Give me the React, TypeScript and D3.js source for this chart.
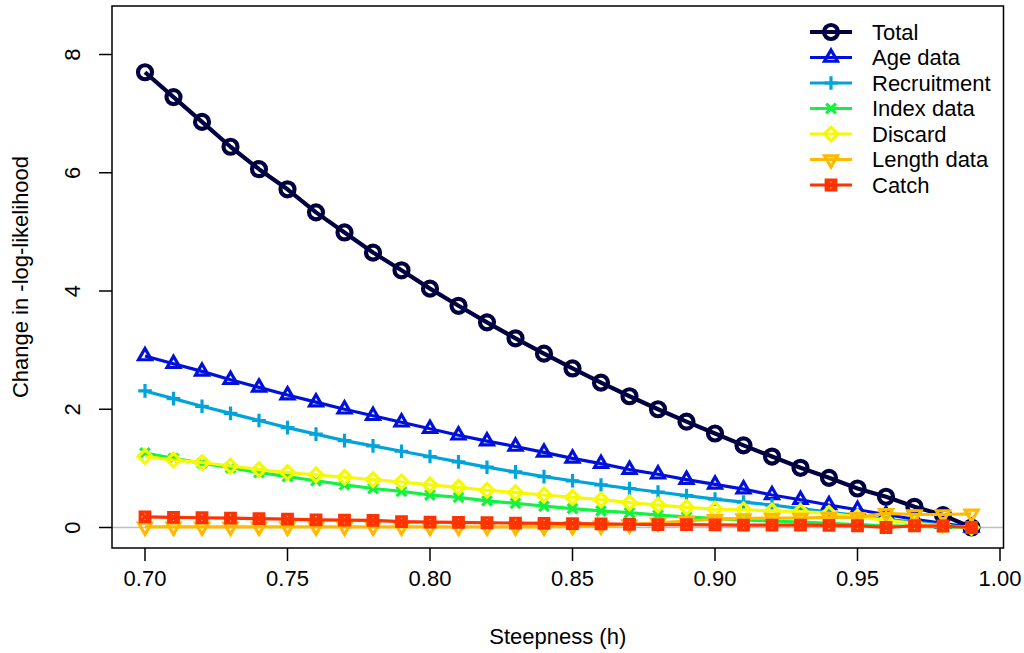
import React from "react";
import * as d3 from "d3";

const steepness = [0.70, 0.71, 0.72, 0.73, 0.74, 0.75, 0.76, 0.77, 0.78, 0.79, 0.80, 0.81, 0.82, 0.83, 0.84, 0.85, 0.86, 0.87, 0.88, 0.89, 0.90, 0.91, 0.92, 0.93, 0.94, 0.95, 0.96, 0.97, 0.98, 0.99];

const total = [7.70, 7.28, 6.86, 6.44, 6.06, 5.72, 5.33, 4.99, 4.65, 4.35, 4.04, 3.75, 3.47, 3.20, 2.94, 2.69, 2.45, 2.22, 2.00, 1.79, 1.59, 1.39, 1.20, 1.01, 0.84, 0.66, 0.52, 0.35, 0.21, 0.00];
const ageData = [2.90, 2.77, 2.64, 2.50, 2.37, 2.24, 2.12, 2.00, 1.89, 1.78, 1.67, 1.56, 1.46, 1.37, 1.27, 1.17, 1.08, 0.98, 0.90, 0.81, 0.73, 0.65, 0.55, 0.47, 0.38, 0.30, 0.22, 0.14, 0.07, 0.00];
const recruitment = [2.31, 2.18, 2.05, 1.93, 1.81, 1.69, 1.58, 1.47, 1.38, 1.29, 1.20, 1.11, 1.02, 0.94, 0.86, 0.79, 0.72, 0.66, 0.60, 0.54, 0.48, 0.43, 0.38, 0.32, 0.26, 0.20, 0.14, 0.09, 0.04, 0.00];
const indexData = [1.26, 1.17, 1.09, 1.01, 0.93, 0.86, 0.79, 0.72, 0.66, 0.61, 0.55, 0.51, 0.45, 0.41, 0.36, 0.32, 0.28, 0.25, 0.21, 0.18, 0.15, 0.13, 0.11, 0.09, 0.07, 0.05, 0.03, 0.02, 0.01, 0.00];
const discard = [1.20, 1.14, 1.10, 1.04, 0.98, 0.93, 0.89, 0.85, 0.81, 0.77, 0.72, 0.68, 0.63, 0.59, 0.55, 0.51, 0.47, 0.42, 0.38, 0.34, 0.31, 0.30, 0.28, 0.27, 0.24, 0.18, 0.12, 0.07, 0.03, 0.00];
const lengthData = [0.01, 0.01, 0.01, 0.01, 0.01, 0.01, 0.01, 0.01, 0.01, 0.01, 0.01, 0.01, 0.01, 0.01, 0.01, 0.02, 0.03, 0.05, 0.08, 0.11, 0.14, 0.15, 0.16, 0.16, 0.17, 0.17, 0.24, 0.22, 0.22, 0.23];
const catchData = [0.18, 0.17, 0.165, 0.16, 0.15, 0.14, 0.13, 0.125, 0.12, 0.10, 0.09, 0.085, 0.08, 0.075, 0.07, 0.065, 0.06, 0.055, 0.05, 0.05, 0.045, 0.04, 0.04, 0.04, 0.035, 0.03, 0.00, 0.03, 0.025, 0.00];

const seriesNames = ["Total", "Age data", "Recruitment", "Index data", "Discard", "Length data", "Catch"];
const seriesColors = ["#000040", "#0010DB", "#00A4DB", "#13F240", "#F6F905", "#FFBA00", "#FF3300"];
const seriesShapes = ["circle", "triangle", "plus", "cross", "diamond", "triangleDown", "squareX"];

const xTicks = [0.70, 0.75, 0.80, 0.85, 0.90, 0.95, 1.00];
const yTicks = [0, 2, 4, 6, 8];

function markerPath(shape: string): string {
  switch (shape) {
    case "circle": {
      const r = 7;
      return `M${-r},0A${r},${r} 0 1,0 ${r},0A${r},${r} 0 1,0 ${-r},0Z`;
    }
    case "triangle": {
      const s = 4.8;
      const r = 1.555 * s, xc = 1.3468 * s, yc = 0.7776 * s;
      return `M0,${-r}L${xc},${yc}L${-xc},${yc}Z`;
    }
    case "triangleDown": {
      const s = 4.8;
      const r = 1.555 * s, xc = 1.3468 * s, yc = 0.7776 * s;
      return `M0,${r}L${xc},${-yc}L${-xc},${-yc}Z`;
    }
    case "plus": {
      const a = 6.8;
      return `M${-a},0L${a},0M0,${-a}L0,${a}`;
    }
    case "cross": {
      const a = 4.8;
      return `M${-a},${-a}L${a},${a}M${-a},${a}L${a},${-a}`;
    }
    case "diamond": {
      const a = 6.8;
      return `M0,${-a}L${a},0L0,${a}L${-a},0Z`;
    }
    case "squareX": {
      const a = 4.8;
      return `M${-a},${-a}L${a},${-a}L${a},${a}L${-a},${a}Z M${-a},${-a}L${a},${a}M${-a},${a}L${a},${-a}`;
    }
  }
  return "";
}

export default function App() {
  const W = 1024, H = 653;
  const box = { left: 112, right: 1003.5, top: 6, bottom: 548 };
  const x = d3.scaleLinear().domain([0.70, 1.00]).range([145, 1000]);
  const y = d3.scaleLinear().domain([0, 8]).range([527.5, 54.5]);

  const allSeries = [total, ageData, recruitment, indexData, discard, lengthData, catchData];
  const line = d3.line<number>().x((_, i) => x(steepness[i])).y((d) => y(d));

  const font = "'Liberation Sans', Arial, Helvetica, sans-serif";
  const fs = 22;

  return (
    <svg width={W} height={H} style={{ position: "absolute", left: 0, top: 0, background: "#fff" }} fontFamily={font}>
      <rect x={0} y={0} width={W} height={H} fill="#fff" />
      <line x1={box.left} x2={box.right} y1={y(0)} y2={y(0)} stroke="#bebebe" strokeWidth={1.5} />

      {allSeries.map((vals, si) => {
        const lw = si === 0 ? 4.2 : 3.2;
        return (
          <g key={seriesNames[si]}>
            <path d={line(vals) || ""} fill="none" stroke={seriesColors[si]} strokeWidth={lw} strokeLinejoin="round" />
            {vals.map((v, i) => (
              <path
                key={i}
                d={markerPath(seriesShapes[si])}
                transform={`translate(${x(steepness[i])},${y(v)})`}
                fill="none"
                stroke={seriesColors[si]}
                strokeWidth={lw}
              />
            ))}
          </g>
        );
      })}

      <rect x={box.left} y={box.top} width={box.right - box.left} height={box.bottom - box.top} fill="none" stroke="#000" strokeWidth={1.5} />

      {xTicks.map((t) => (
        <g key={t}>
          <line x1={x(t)} x2={x(t)} y1={box.bottom} y2={box.bottom + 13} stroke="#000" strokeWidth={1.5} />
          <text x={x(t)} y={578} textAnchor="middle" dominantBaseline="central" fontSize={fs}>
            {d3.format(".2f")(t)}
          </text>
        </g>
      ))}
      <text x={(box.left + box.right) / 2} y={636} textAnchor="middle" dominantBaseline="central" fontSize={fs}>
        Steepness (h)
      </text>

      {yTicks.map((t) => (
        <g key={t}>
          <line x1={box.left} x2={box.left - 13} y1={y(t)} y2={y(t)} stroke="#000" strokeWidth={1.5} />
          <text
            transform={`translate(72,${y(t)}) rotate(-90)`}
            textAnchor="middle"
            dominantBaseline="central"
            fontSize={fs}
          >
            {t}
          </text>
        </g>
      ))}
      <text
        transform={`translate(20,${(box.top + box.bottom) / 2}) rotate(-90)`}
        textAnchor="middle"
        dominantBaseline="central"
        fontSize={fs}
      >
        Change in -log-likelihood
      </text>

      {seriesNames.map((name, i) => {
        const ly = 32 + i * 25.5;
        const lw = i === 0 ? 4.2 : 3.2;
        return (
          <g key={name}>
            <line x1={810} x2={852} y1={ly} y2={ly} stroke={seriesColors[i]} strokeWidth={lw} />
            <path d={markerPath(seriesShapes[i])} transform={`translate(831,${ly})`} fill="none" stroke={seriesColors[i]} strokeWidth={lw} />
            <text x={872} y={ly} dominantBaseline="central" fontSize={fs}>
              {name}
            </text>
          </g>
        );
      })}
    </svg>
  );
}
